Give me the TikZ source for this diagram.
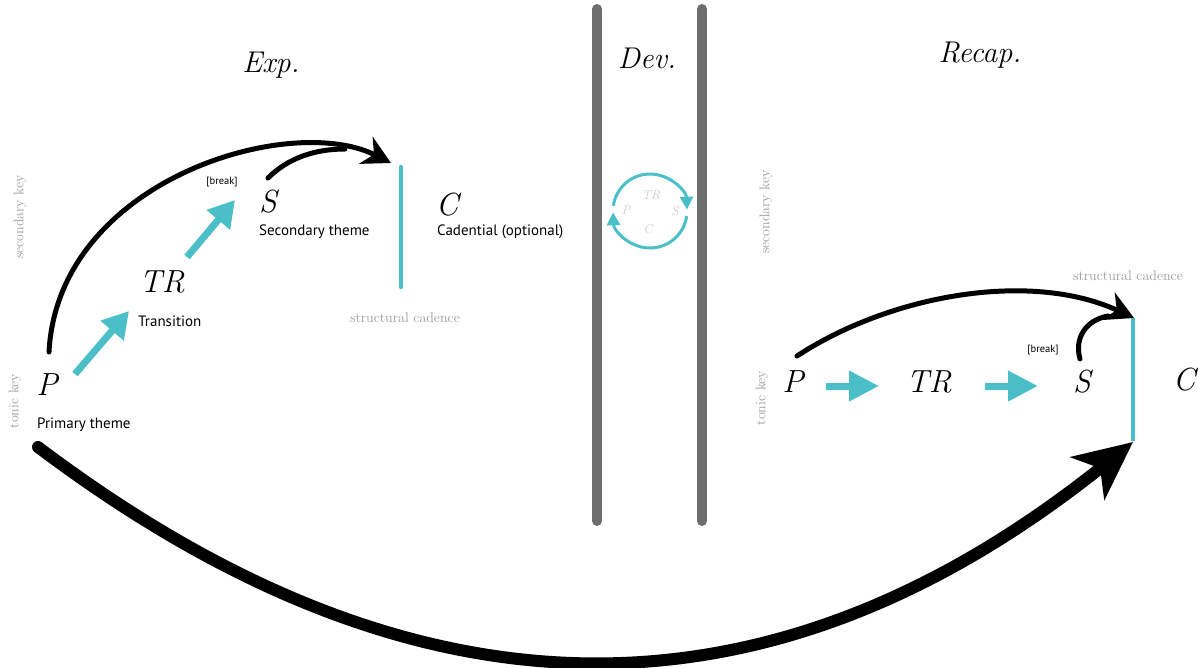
\documentclass[tikz,border=0pt]{standalone}
\usepackage{fontspec}
\newfontfamily\labfont{PT Sans}
\usetikzlibrary{arrows.meta}
\definecolor{tealc}{HTML}{4BBFC8}
\definecolor{barc}{HTML}{6E6E6E}
\definecolor{keygray}{HTML}{9A9A9A}
\definecolor{lightg}{HTML}{CCCCCC}
\begin{document}
\begin{tikzpicture}[x=1pt,y=-1pt,
  letter/.style={font=\fontsize{32}{32}\selectfont\itshape, inner sep=0pt},
  smallletter/.style={font=\fontsize{13}{13}\selectfont\itshape, text=lightg, inner sep=0pt},
  titletext/.style={font=\fontsize{30}{30}\selectfont\itshape, inner sep=0pt, anchor=base},
  lab/.style={font=\labfont\fontsize{15}{15}\selectfont, inner sep=0pt, anchor=west},
  keylab/.style={font=\fontsize{14}{14}\selectfont, text=keygray, inner sep=0pt},
  brk/.style={font=\labfont\fontsize{10.5}{10.5}\selectfont, inner sep=0pt},
  tarrow/.style={tealc, line width=7pt, -{Triangle[length=26pt,width=29pt]}},
  barrow/.style={line width=5pt, line cap=round, -{Stealth[length=28pt,width=30pt,inset=9pt]}},
  bline/.style={line width=5pt, line cap=round},
  cadline/.style={tealc, line width=4.5pt, line cap=round},
  divider/.style={barc, line width=10pt, line cap=round},
  cyc/.style={tealc, line width=3pt, -{Triangle[length=13pt,width=13pt]}}
]
\useasboundingbox (0,0) rectangle (1198,667);

% dividers
\coordinate (d1t) at (597,9); \coordinate (d1b) at (597,521);
\coordinate (d2t) at (702,9); \coordinate (d2b) at (702,521);
\draw[divider] (d1t) -- (d1b);
\draw[divider] (d2t) -- (d2b);

% titles
\node[titletext] (exp) at (271,72) {Exp.};
\node[titletext] (dev) at (647,68) {Dev.};
\node[titletext] (recap) at (980,62) {Recap.};

% ---------- Exposition ----------
\node[keylab, rotate=90] (sk1) at (20,217) {secondary key};
\node[keylab, rotate=90] (tk1) at (15,401) {tonic key};

\node[letter] (P1) at (47,385) {P};
\node[lab] (P1l) at (37,425) {Primary theme};
\node[letter] (TR1) at (162,282) {TR};
\node[lab] (TR1l) at (138,321) {Transition};
\node[letter] (S1) at (268,202) {S};
\node[lab] (S1l) at (259,232) {Secondary theme};
\node[brk] (br1) at (222,182) {[break]};
\node[letter] (C1) at (447,205) {C};
\node[lab] (C1l) at (437,232) {Cadential (optional)};
\node[keylab] (sc1) at (405,318) {structural cadence};

\coordinate (cad1t) at (401,167); \coordinate (cad1b) at (401,287);
\draw[cadline] (cad1t) -- (cad1b);

\coordinate (a1s) at (75,374); \coordinate (a1e) at (129,311);
\coordinate (a2s) at (187,257); \coordinate (a2e) at (235,200);
\draw[tarrow] (a1s) -- (a1e);
\draw[tarrow] (a2s) -- (a2e);

\coordinate (arcs) at (49,352); \coordinate (arce) at (391,163);
\draw[barrow] (arcs) .. controls (58,180) and (290,112) .. (arce);
\coordinate (sbs) at (268,178); \coordinate (sbe) at (345,149);
\draw[bline] (sbs) .. controls (288,158) and (315,149) .. (sbe);

% ---------- Development ----------
\coordinate (cc) at (650,211);
\draw[cyc] ([shift={(188:37)}]cc) arc[start angle=188, end angle=358, radius=37];
\draw[cyc] ([shift={(8:37)}]cc) arc[start angle=8, end angle=178, radius=37];
\node[smallletter] (dTR) at (651,195) {TR};
\node[smallletter] (dP) at (626,210) {P};
\node[smallletter] (dS) at (675,211) {S};
\node[smallletter] (dC) at (648,229) {C};

% ---------- Recapitulation ----------
\node[keylab, rotate=90] (sk2) at (766,212) {secondary key};
\node[keylab, rotate=90] (tk2) at (762,398) {tonic key};

\node[letter] (P2) at (793,382) {P};
\node[letter] (TR2) at (929,382) {TR};
\node[letter] (S2) at (1082,382) {S};
\node[letter] (C2) at (1184,380) {C};
\node[brk] (br2) at (1043,350) {[break]};
\node[keylab] (sc2) at (1128,276) {structural cadence};

\coordinate (cad2t) at (1133,318); \coordinate (cad2b) at (1133,441);
\draw[cadline, line cap=butt] (cad2t) -- (cad2b);

\coordinate (r1s) at (826,386); \coordinate (r1e) at (879,386);
\coordinate (r2s) at (985,386); \coordinate (r2e) at (1038,386);
\draw[tarrow, -{Triangle[length=30pt,width=29pt]}] (r1s) -- (r1e);
\draw[tarrow, -{Triangle[length=30pt,width=29pt]}] (r2s) -- (r2e);

\coordinate (rarcs) at (797,356); \coordinate (rarce) at (1134,318);
\draw[barrow] (rarcs) .. controls (890,295) and (1030,270) .. (rarce);
\coordinate (rsbs) at (1080,359); \coordinate (rsbe) at (1108,316);
\draw[bline] (rsbs) .. controls (1074,338) and (1086,320) .. (rsbe);

% big bottom arrow
\coordinate (bs) at (38,447); \coordinate (be) at (1133,442);
\draw[line width=12pt, line cap=round, -{Stealth[length=58pt,width=54pt,inset=16pt]}]
  (bs) .. controls (400,720) and (755,744) .. (be);
\end{tikzpicture}
\end{document}
